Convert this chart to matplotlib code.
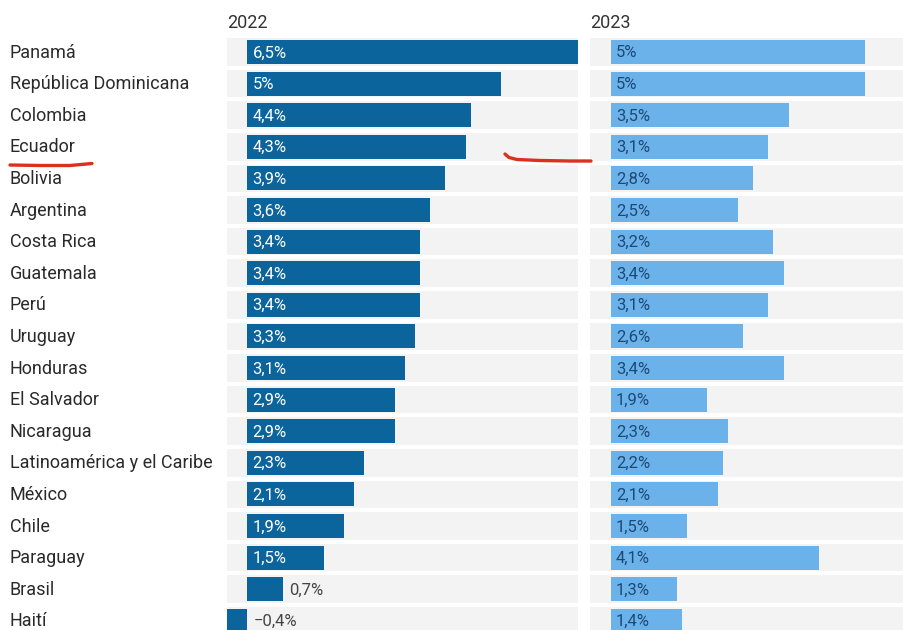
import matplotlib.pyplot as plt
from matplotlib.lines import Line2D
from matplotlib.transforms import blended_transform_factory

plt.rcParams['font.family'] = ['Roboto', 'DejaVu Sans']

countries = ["Panamá", "República Dominicana", "Colombia", "Ecuador", "Bolivia",
             "Argentina", "Costa Rica", "Guatemala", "Perú", "Uruguay", "Honduras",
             "El Salvador", "Nicaragua", "Latinoamérica y el Caribe", "México",
             "Chile", "Paraguay", "Brasil", "Haití"]
growth_2022 = [6.5, 5.0, 4.4, 4.3, 3.9, 3.6, 3.4, 3.4, 3.4, 3.3, 3.1,
               2.9, 2.9, 2.3, 2.1, 1.9, 1.5, 0.7, -0.4]
growth_2023 = [5.0, 5.0, 3.5, 3.1, 2.8, 2.5, 3.2, 3.4, 3.1, 2.6, 3.4,
               1.9, 2.3, 2.2, 2.1, 1.5, 4.1, 1.3, 1.4]
years = ["2022", "2023"]

# hand drawn red marks, figure pixels
mark1_x = [10, 40, 70, 92]
mark1_y = [165, 165.5, 165.5, 163.5]
mark2_x = [505, 509, 517, 540, 570, 591]
mark2_y = [154, 157.5, 159.5, 160.5, 161, 161]

W, H = 904, 630
dark_blue = "#0b649c"
light_blue = "#6cb2ea"
stripe = "#f3f3f3"

fig = plt.figure(figsize=(W / 100, H / 100), dpi=100)

n = len(countries)
row = 31.6
top = 52 - row / 2
bottom = top + n * row
scale = 50.8  # px per percent


def make_ax(left_px, xmin, xmax):
    width_px = (xmax - xmin) * scale
    ax = fig.add_axes([left_px / W, 1 - bottom / H, width_px / W, (bottom - top) / H])
    ax.set_xlim(xmin, xmax)
    ax.set_ylim(n - 0.5, -0.5)
    ax.axis("off")
    return ax


ax1 = make_ax(227, -0.4, 6.5)
ax2 = make_ax(590, -0.41, 5.95)

ypos = list(range(n))
for ax, vals, col, txtcol, year in [(ax1, growth_2022, dark_blue, "white", years[0]),
                                    (ax2, growth_2023, light_blue, "#1c4a75", years[1])]:
    xmin, xmax = ax.get_xlim()
    ax.barh(ypos, [xmax - xmin] * n, left=xmin, height=0.87, color=stripe, zorder=1)
    ax.barh(ypos, vals, height=0.76, color=col, zorder=2)
    for y, v in zip(ypos, vals):
        lab = f"{v:g}%".replace(".", ",").replace("-", "\u2212")
        if v >= 1.0:
            ax.text(0.1, y + 0.03, lab, color=txtcol, fontsize=12, va="center", ha="left", zorder=3)
        else:
            ax.text(max(v, 0) + 0.12, y + 0.03, lab, color="#444444", fontsize=12,
                    va="center", ha="left", zorder=3)
    ax.text(xmin, -0.62, year, fontsize=13, color="#333333", ha="left", va="bottom")

tr = blended_transform_factory(fig.transFigure, ax1.transData)
for y, name in zip(ypos, countries):
    ax1.text(10 / W, y + 0.02, name, transform=tr, fontsize=13, color="#2a2a2a",
             ha="left", va="center", clip_on=False)

for mx, my in [(mark1_x, mark1_y), (mark2_x, mark2_y)]:
    fig.add_artist(Line2D([x / W for x in mx], [1 - y / H for y in my],
                          transform=fig.transFigure, color="#d8321c", lw=2.4,
                          solid_capstyle="round", solid_joinstyle="round"))

fig.savefig("out.png", dpi=100)
